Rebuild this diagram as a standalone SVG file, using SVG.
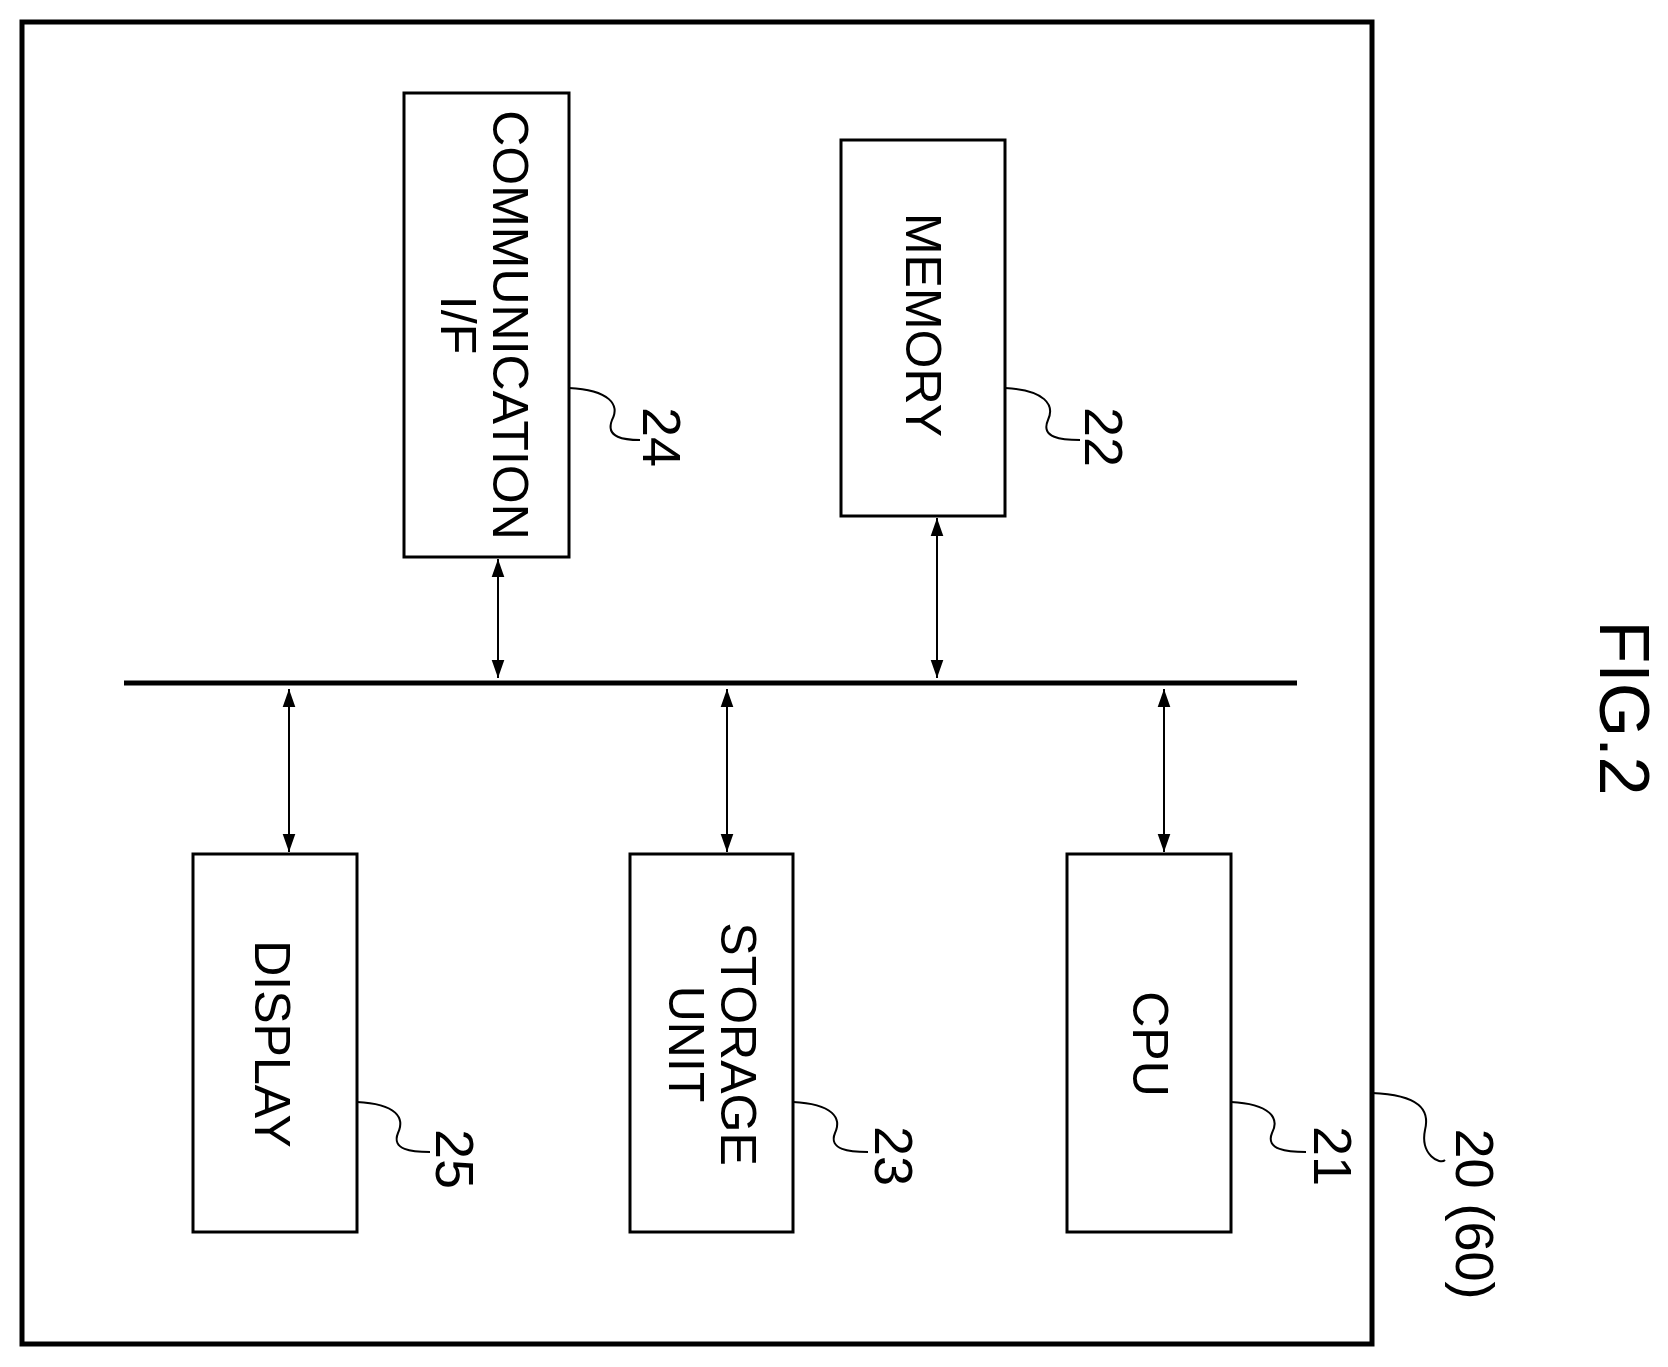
<svg xmlns="http://www.w3.org/2000/svg" width="1668" height="1367" viewBox="0 0 1668 1367">
<style>
.b{fill:none;stroke:#000;stroke-width:3}
.t{font-family:"Liberation Sans",Arial,sans-serif;font-size:50px;text-anchor:middle;dominant-baseline:central}
.n{font-size:54px}
.l{fill:none;stroke:#000;stroke-width:2}
.c{stroke:#000;stroke-width:2;marker-start:url(#a);marker-end:url(#a)}
</style>
<defs><marker id="a" viewBox="0 0 10 10" refX="10" refY="5" markerWidth="9" markerHeight="9" orient="auto-start-reverse"><path d="M0,1.5L10,5L0,8.5z"/></marker></defs>
<rect width="1668" height="1367" fill="#fff"/>
<g id="outer"><rect class="b" x="22" y="22" width="1350" height="1322" style="stroke-width:5"/>
<path class="l" d="M1372,1093 C1420,1095 1430,1110 1425,1130 C1420,1155 1440,1165 1445,1160"/>
<text class="t n" transform="translate(1475,1214) rotate(90)">20 (60)</text></g>
<g id="comm"><rect class="b" x="404" y="93" width="165" height="464"/>
<text class="t" transform="translate(510,325) rotate(90)">COMMUNICATION</text>
<text class="t" transform="translate(458,325) rotate(90)">I/F</text>
<path class="l" d="M569,388 C610,390 620,405 612,420 C605,438 625,440 640,440"/>
<text class="t n" transform="translate(662,437) rotate(90)">24</text></g>
<g id="memory"><rect class="b" x="841" y="140" width="164" height="376"/>
<text class="t" transform="translate(923,325) rotate(90)">MEMORY</text>
<path class="l" d="M1005,388 C1045,390 1055,405 1048,420 C1040,438 1062,440 1080,440"/>
<text class="t n" transform="translate(1104,437) rotate(90)">22</text></g>
<g id="display"><rect class="b" x="193" y="854" width="164" height="378"/>
<text class="t" transform="translate(272,1044) rotate(90)">DISPLAY</text>
<path class="l" d="M357,1102 C397,1104 405,1118 398,1133 C391,1150 412,1152 430,1152"/>
<text class="t n" transform="translate(455,1159) rotate(90)">25</text></g>
<g id="storage"><rect class="b" x="630" y="854" width="163" height="378"/>
<text class="t" transform="translate(738,1044) rotate(90)">STORAGE</text>
<text class="t" transform="translate(686,1044) rotate(90)">UNIT</text>
<path class="l" d="M793,1102 C833,1104 842,1118 835,1133 C828,1150 850,1152 868,1152"/>
<text class="t n" transform="translate(894,1156) rotate(90)">23</text></g>
<g id="cpu"><rect class="b" x="1067" y="854" width="164" height="378"/>
<text class="t" transform="translate(1150,1044) rotate(90)">CPU</text>
<path class="l" d="M1231,1102 C1270,1104 1280,1118 1272,1133 C1265,1150 1288,1152 1306,1152"/>
<text class="t n" transform="translate(1333,1156) rotate(90)">21</text></g>
<g id="fig"><text class="t" style="font-size:70px" transform="translate(1624,708) rotate(90)">FIG.2</text></g>
<g id="connectors">
<line x1="124" y1="683" x2="1297" y2="683" stroke="#000" stroke-width="5"/>
<line class="c" x1="289" y1="689" x2="289" y2="852"/>
<line class="c" x1="727" y1="689" x2="727" y2="852"/>
<line class="c" x1="1164" y1="689" x2="1164" y2="852"/>
<line class="c" x1="498" y1="559" x2="498" y2="678"/>
<line class="c" x1="937" y1="518" x2="937" y2="678"/>
</g>
</svg>
